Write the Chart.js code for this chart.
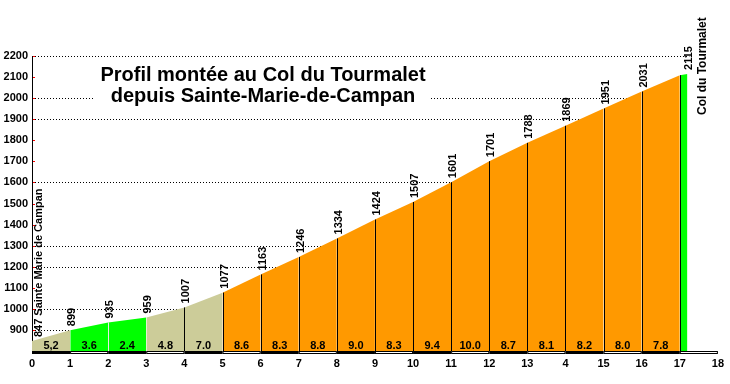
<!DOCTYPE html>
<html>
<head>
<meta charset="utf-8">
<script src="https://cdn.jsdelivr.net/npm/chart.js@4/dist/chart.umd.min.js"></script>
<style>
  body { margin: 0; background: #fff; }
  canvas { display: block; }
</style>
</head>
<body>
<canvas id="profile" width="730" height="384"></canvas>
<script>
// Profile data (km from Sainte-Marie-de-Campan, altitude in m)
const kmPoints = [0, 1, 2, 3, 4, 5, 6, 7, 8, 9, 10, 11, 12, 13, 14, 15, 16, 17, 17.2];
const elevations = [847, 899, 935, 959, 1007, 1077, 1163, 1246, 1334, 1424, 1507, 1601, 1701, 1788, 1869, 1951, 2031, 2109, 2115];
const elevationLabels = ['847 Sainte Marie de Campan', '899', '935', '959', '1007', '1077', '1163', '1246', '1334', '1424', '1507', '1601', '1701', '1788', '1869', '1951', '2031', '', '2115'];
const gradients = [5.2, 3.6, 2.4, 4.8, 7.0, 8.6, 8.3, 8.8, 9.0, 8.3, 9.4, 10.0, 8.7, 8.1, 8.2, 8.0, 7.8, 3.0];
const gradientLabels = ['5,2', '3.6', '2.4', '4.8', '7.0', '8.6', '8.3', '8.8', '9.0', '8.3', '9.4', '10.0', '8.7', '8.1', '8.2', '8.0', '7.8', ''];
const xTickLabels = ['0', '1', '2', '3', '4', '5', '6', '7', '8', '9', '10', '11', '12', '13', '4', '15', '16', '17', '18'];
const yTickValues = [900, 1000, 1100, 1200, 1300, 1400, 1500, 1600, 1700, 1800, 1900, 2000, 2100, 2200];
const gridValues = [900, 1000, 1200, 1300, 1600, 1900, 2000, 2200];
const titleLines = ['Profil montée au Col du Tourmalet', 'depuis Sainte-Marie-de-Campan'];
const summitName = 'Col du Tourmalet';

const FONT = "'Liberation Sans', Arial, sans-serif";

function colorFor(g) {
  if (g < 4) return '#00ff00';
  if (g < 7.5) return '#cccc99';
  return '#ff9900';
}

// one filled dataset per km segment
const segments = gradients.map((g, i) => ({
  data: [{ x: kmPoints[i], y: elevations[i] }, { x: kmPoints[i + 1], y: elevations[i + 1] }],
  backgroundColor: colorFor(g),
  borderWidth: 0,
  pointRadius: 0,
  fill: 'start',
  tension: 0
}));

function crossingKm(v) {
  for (let i = 0; i < elevations.length - 1; i++) {
    if (elevations[i] <= v && elevations[i + 1] >= v) {
      const t = (v - elevations[i]) / (elevations[i + 1] - elevations[i]);
      return kmPoints[i] + t * (kmPoints[i + 1] - kmPoints[i]);
    }
  }
  return 17.25;
}

const profilePlugin = {
  id: 'profile',
  beforeDatasetsDraw(chart) {
    const { ctx, scales: { x, y } } = chart;
    ctx.save();
    ctx.strokeStyle = '#000';
    ctx.lineWidth = 1;
    ctx.setLineDash([1, 2]);
    gridValues.forEach(v => {
      const py = Math.round(y.getPixelForValue(v)) + 0.5;
      ctx.beginPath();
      ctx.moveTo(x.getPixelForValue(0), py);
      ctx.lineTo(x.getPixelForValue(Math.min(crossingKm(v), 17.25)), py);
      ctx.stroke();
    });
    ctx.restore();
  },
  afterDatasetsDraw(chart) {
    const { ctx, chartArea, scales: { x, y } } = chart;
    const bottom = chartArea.bottom;
    ctx.save();

    // km dividers
    ctx.lineWidth = 1;
    for (let i = 1; i < kmPoints.length - 1; i++) {
      const px = Math.round(x.getPixelForValue(kmPoints[i])) + 0.5;
      ctx.strokeStyle = kmPoints[i] >= 4 ? '#000' : (kmPoints[i] === 2 ? '#e8e8e8' : 'rgba(255,255,255,0.35)');
      ctx.beginPath();
      ctx.moveTo(px, bottom);
      ctx.lineTo(px, y.getPixelForValue(elevations[i]));
      ctx.stroke();
    }

    // red ticks on y axis
    ctx.strokeStyle = '#ff0000';
    yTickValues.forEach(v => {
      const py = Math.round(y.getPixelForValue(v)) + 0.5;
      ctx.beginPath();
      ctx.moveTo(chartArea.left + 1, py);
      ctx.lineTo(chartArea.left + 3, py);
      ctx.stroke();
    });

    // black / white km bar along the bottom
    for (let k = 0; k < 18; k++) {
      const x1 = x.getPixelForValue(k);
      const x2 = x.getPixelForValue(k + 1);
      ctx.fillStyle = '#000';
      ctx.fillRect(x1, bottom, x2 - x1, 3);
      if (k % 2 === 1) {
        ctx.fillStyle = '#fff';
        ctx.fillRect(x1 + 1, bottom + 1, x2 - x1 - 2, 1);
      }
    }

    // gradient labels
    ctx.fillStyle = '#000';
    ctx.font = 'bold 11px ' + FONT;
    ctx.textAlign = 'center';
    ctx.textBaseline = 'middle';
    gradientLabels.forEach((t, i) => {
      if (!t) return;
      const cx = (x.getPixelForValue(kmPoints[i]) + x.getPixelForValue(kmPoints[i + 1])) / 2;
      ctx.fillText(t, cx, bottom - 5);
    });

    // altitude labels, vertical
    ctx.textAlign = 'left';
    elevationLabels.forEach((t, i) => {
      if (!t) return;
      const px = x.getPixelForValue(kmPoints[i]) + (i === 0 ? 7 : 2);
      const py = y.getPixelForValue(elevations[i]) - 4;
      ctx.save();
      ctx.translate(px, py);
      ctx.rotate(-Math.PI / 2);
      ctx.fillText(t, 0, 0);
      ctx.restore();
    });

    // summit name
    ctx.font = 'bold 12px ' + FONT;
    ctx.save();
    ctx.translate(703, 115);
    ctx.rotate(-Math.PI / 2);
    ctx.fillText(summitName, 0, 0);
    ctx.restore();

    // title on white box
    ctx.fillStyle = '#fff';
    ctx.fillRect(93, 61, 336, 48);
    ctx.fillStyle = '#000';
    ctx.font = 'bold 20px ' + FONT;
    ctx.textAlign = 'center';
    ctx.textBaseline = 'alphabetic';
    ctx.fillText(titleLines[0], 263, 81);
    ctx.fillText(titleLines[1], 263, 102);

    ctx.restore();
  }
};

new Chart(document.getElementById('profile'), {
  type: 'line',
  data: { datasets: segments },
  options: {
    responsive: false,
    animation: false,
    layout: { padding: { top: 56, right: 11, left: 0, bottom: 0 } },
    plugins: { legend: { display: false }, tooltip: { enabled: false } },
    scales: {
      x: {
        type: 'linear',
        min: 0,
        max: 18,
        afterFit(scale) { scale.height = 33; },
        grid: { display: false, drawTicks: false },
        border: { display: false },
        ticks: {
          stepSize: 1,
          autoSkip: false,
          maxRotation: 0,
          padding: 6,
          color: '#000',
          font: { family: FONT, weight: 'bold', size: 11 },
          callback: (v, i) => xTickLabels[i] ?? ''
        }
      },
      y: {
        min: 800,
        max: 2200,
        afterFit(scale) { scale.width = 32; },
        grid: { display: false, drawTicks: false },
        border: { display: true, color: '#000', width: 1 },
        ticks: {
          stepSize: 100,
          padding: 4,
          color: '#000',
          font: { family: FONT, weight: 'bold', size: 11 },
          callback: v => (yTickValues.includes(v) ? String(v) : '')
        }
      }
    }
  },
  plugins: [profilePlugin]
});
</script>
</body>
</html>
